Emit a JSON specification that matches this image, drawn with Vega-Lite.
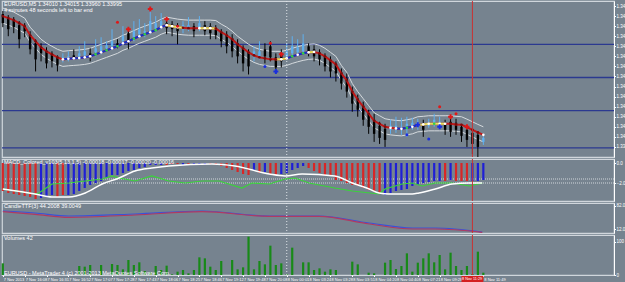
{
"$schema": "https://vega.github.io/schema/vega-lite/v6.json",
"padding": {"left": -2, "top": -1, "right": 0, "bottom": 0},
"background": "#76838f",
"spacing": 2,
"bounds": "flush",
"config": {
  "view": {"fill": "#76838f", "stroke": "#d0d6dc", "strokeWidth": 1.2},
  "axis": {"labelFontSize": 4.5, "labelColor": "#ffffff", "tickColor": "#ffffff", "domainColor": "#ffffff", "tickSize": 1.5, "labelPadding": 0.5, "labelFont": "Liberation Sans", "grid": false},
  "text": {"font": "Liberation Sans", "fontSize": 5.5, "color": "#ffffff"}
},
"datasets": {
"one": [{"z": 0}],
"bars": [
{"b":0,"o":1.34610,"h":1.34625,"l":1.34545,"c":1.34565,"ma":1.34600,"up":1.34640,"lo":1.34565,"dc":"r","m":-2.8,"mc":"r","v":35},
{"b":1,"o":1.34590,"h":1.34605,"l":1.34500,"c":1.34535,"ma":1.34590,"up":1.34630,"lo":1.34555,"dc":"r","m":-3.0,"mc":"r"},
{"b":2,"o":1.34580,"h":1.34595,"l":1.34515,"c":1.34545,"ma":1.34580,"up":1.34620,"lo":1.34545,"dc":"r","m":-3.1,"mc":"r"},
{"b":3,"o":1.34555,"h":1.34575,"l":1.34440,"c":1.34485,"ma":1.34565,"up":1.34605,"lo":1.34530,"dc":"r","m":-3.2,"mc":"r"},
{"b":4,"o":1.34550,"h":1.34565,"l":1.34495,"c":1.34525,"ma":1.34550,"up":1.34590,"lo":1.34515,"dc":"r","m":-3.3,"mc":"r"},
{"b":5,"o":1.34505,"h":1.34525,"l":1.34410,"c":1.34435,"ma":1.34505,"up":1.34545,"lo":1.34470,"dc":"r","m":-3.4,"mc":"r"},
{"b":6,"o":1.34465,"h":1.34485,"l":1.34325,"c":1.34385,"ma":1.34475,"up":1.34515,"lo":1.34440,"dc":"r","m":-3.6,"mc":"r"},
{"b":7,"o":1.34445,"h":1.34465,"l":1.34375,"c":1.34415,"ma":1.34445,"up":1.34485,"lo":1.34410,"dc":"r","m":-3.5,"mc":"b"},
{"b":8,"o":1.34425,"h":1.34445,"l":1.34340,"c":1.34365,"ma":1.34425,"up":1.34465,"lo":1.34390,"dc":"r","m":-3.3,"mc":"b"},
{"b":9,"o":1.34410,"h":1.34425,"l":1.34345,"c":1.34375,"ma":1.34410,"up":1.34450,"lo":1.34375,"dc":"r","m":-3.2,"mc":"b"},
{"b":10,"o":1.34395,"h":1.34405,"l":1.34325,"c":1.34355,"ma":1.34395,"up":1.34435,"lo":1.34360,"dc":"r","m":-3.4,"mc":"r"},
{"b":11,"o":1.34385,"h":1.34415,"l":1.34370,"c":1.34395,"ma":1.34385,"up":1.34425,"lo":1.34350,"dc":"w","bs":1,"m":-3.2,"mc":"r"},
{"b":12,"o":1.34390,"h":1.34425,"l":1.34375,"c":1.34400,"ma":1.34388,"up":1.34428,"lo":1.34353,"dc":"w","bs":1,"m":-3.2,"mc":"b"},
{"b":13,"o":1.34405,"h":1.34435,"l":1.34385,"c":1.34395,"ma":1.34390,"up":1.34430,"lo":1.34355,"dc":"w","bs":1,"m":-3.1,"mc":"b"},
{"b":14,"o":1.34400,"h":1.34450,"l":1.34385,"c":1.34415,"ma":1.34392,"up":1.34432,"lo":1.34357,"dc":"w","bs":1,"m":-2.8,"mc":"b","v":27},
{"b":15,"o":1.34405,"h":1.34475,"l":1.34390,"c":1.34425,"ma":1.34395,"up":1.34435,"lo":1.34360,"dc":"w","bs":1,"m":-2.5,"mc":"b","v":25},
{"b":16,"o":1.34415,"h":1.34440,"l":1.34375,"c":1.34400,"ma":1.34400,"up":1.34440,"lo":1.34365,"dc":"w","bs":1,"m":-2.2,"mc":"b","v":30},
{"b":17,"o":1.34420,"h":1.34485,"l":1.34400,"c":1.34440,"ma":1.34410,"up":1.34450,"lo":1.34375,"dc":"g","bs":1,"m":-2.0,"mc":"b"},
{"b":18,"o":1.34425,"h":1.34495,"l":1.34410,"c":1.34450,"ma":1.34420,"up":1.34460,"lo":1.34385,"dc":"w","bs":1,"m":-1.8,"mc":"b","v":30},
{"b":19,"o":1.34440,"h":1.34475,"l":1.34425,"c":1.34455,"ma":1.34430,"up":1.34470,"lo":1.34395,"dc":"g","bs":1,"m":-1.5,"mc":"b"},
{"b":20,"o":1.34450,"h":1.34535,"l":1.34435,"c":1.34475,"ma":1.34440,"up":1.34480,"lo":1.34405,"dc":"w","bs":1,"m":-1.2,"mc":"b","v":33},
{"b":21,"o":1.34465,"h":1.34485,"l":1.34440,"c":1.34455,"ma":1.34450,"up":1.34490,"lo":1.34415,"dc":"g","bs":1,"m":-1.2,"mc":"b","v":30},
{"b":22,"o":1.34475,"h":1.34550,"l":1.34455,"c":1.34500,"ma":1.34465,"up":1.34505,"lo":1.34430,"dc":"w","bs":1,"m":-1.0,"mc":"b","v":17},
{"b":23,"o":1.34515,"h":1.34540,"l":1.34435,"c":1.34475,"ma":1.34475,"up":1.34515,"lo":1.34440,"dc":"w","bs":1,"m":-0.8,"mc":"b","v":45},
{"b":24,"o":1.34495,"h":1.34575,"l":1.34475,"c":1.34525,"ma":1.34488,"up":1.34528,"lo":1.34453,"dc":"g","bs":1,"m":-0.7,"mc":"b","v":30},
{"b":25,"o":1.34510,"h":1.34585,"l":1.34490,"c":1.34535,"ma":1.34500,"up":1.34540,"lo":1.34465,"dc":"w","bs":1,"m":-0.5,"mc":"b","v":38},
{"b":26,"o":1.34515,"h":1.34565,"l":1.34495,"c":1.34525,"ma":1.34510,"up":1.34550,"lo":1.34475,"dc":"g","bs":1,"m":-0.4,"mc":"b","v":12},
{"b":27,"o":1.34525,"h":1.34635,"l":1.34510,"c":1.34575,"ma":1.34520,"up":1.34560,"lo":1.34485,"dc":"w","bs":1,"m":-0.2,"mc":"b","v":8},
{"b":28,"o":1.34535,"h":1.34600,"l":1.34520,"c":1.34565,"ma":1.34530,"up":1.34570,"lo":1.34495,"dc":"g","bs":1,"m":-0.2,"mc":"b","v":27},
{"b":29,"o":1.34545,"h":1.34615,"l":1.34535,"c":1.34575,"ma":1.34545,"up":1.34585,"lo":1.34510,"dc":"w","bs":1,"m":-0.2,"mc":"b","v":15},
{"b":30,"o":1.34565,"h":1.34585,"l":1.34510,"c":1.34540,"ma":1.34555,"up":1.34595,"lo":1.34520,"dc":"w","bs":1,"ys":1,"m":-0.2,"mc":"r","v":28},
{"b":31,"o":1.34560,"h":1.34575,"l":1.34500,"c":1.34535,"ma":1.34550,"up":1.34590,"lo":1.34515,"dc":"w","ys":1,"m":-0.1,"mc":"r","v":2},
{"b":32,"o":1.34555,"h":1.34565,"l":1.34460,"c":1.34525,"ma":1.34545,"up":1.34585,"lo":1.34510,"dc":"w","ys":1,"m":-0.1,"mc":"r","v":10},
{"b":33,"o":1.34535,"h":1.34575,"l":1.34515,"c":1.34555,"ma":1.34542,"up":1.34582,"lo":1.34507,"dc":"r","ys":1,"m":-0.2,"mc":"b","v":15},
{"b":34,"o":1.34540,"h":1.34595,"l":1.34525,"c":1.34555,"ma":1.34540,"up":1.34580,"lo":1.34505,"dc":"r","m":-0.1,"mc":"r","v":5},
{"b":35,"o":1.34550,"h":1.34565,"l":1.34495,"c":1.34525,"ma":1.34540,"up":1.34580,"lo":1.34505,"dc":"r","m":-0.2,"mc":"b","v":15},
{"b":36,"o":1.34540,"h":1.34600,"l":1.34525,"c":1.34565,"ma":1.34540,"up":1.34580,"lo":1.34505,"dc":"w","ys":2,"m":-0.2,"mc":"b","v":53},
{"b":37,"o":1.34555,"h":1.34575,"l":1.34505,"c":1.34525,"ma":1.34540,"up":1.34580,"lo":1.34505,"dc":"w","ys":2,"m":-0.2,"mc":"b","v":50},
{"b":38,"o":1.34550,"h":1.34565,"l":1.34485,"c":1.34515,"ma":1.34540,"up":1.34580,"lo":1.34505,"dc":"w","ys":2,"m":-0.1,"mc":"r","v":25},
{"b":39,"o":1.34540,"h":1.34555,"l":1.34485,"c":1.34505,"ma":1.34538,"up":1.34578,"lo":1.34503,"dc":"r","ys":2,"m":-0.2,"mc":"r","v":15},
{"b":40,"o":1.34520,"h":1.34535,"l":1.34445,"c":1.34475,"ma":1.34520,"up":1.34560,"lo":1.34485,"dc":"r","m":-0.3,"mc":"r","v":42},
{"b":41,"o":1.34505,"h":1.34525,"l":1.34415,"c":1.34450,"ma":1.34505,"up":1.34545,"lo":1.34470,"dc":"r","m":-0.5,"mc":"r"},
{"b":42,"o":1.34490,"h":1.34510,"l":1.34395,"c":1.34425,"ma":1.34485,"up":1.34525,"lo":1.34450,"dc":"r","m":-0.7,"mc":"r","v":45},
{"b":43,"o":1.34465,"h":1.34485,"l":1.34365,"c":1.34400,"ma":1.34460,"up":1.34500,"lo":1.34425,"dc":"r","m":-0.9,"mc":"r","v":17},
{"b":44,"o":1.34440,"h":1.34455,"l":1.34325,"c":1.34365,"ma":1.34440,"up":1.34480,"lo":1.34405,"dc":"r","m":-1.1,"mc":"r","v":23},
{"b":45,"o":1.34420,"h":1.34435,"l":1.34310,"c":1.34350,"ma":1.34420,"up":1.34460,"lo":1.34385,"dc":"r","m":-1.2,"mc":"r","v":115},
{"b":46,"o":1.34405,"h":1.34450,"l":1.34375,"c":1.34425,"ma":1.34405,"up":1.34445,"lo":1.34370,"dc":"r","m":-0.7,"mc":"b","v":17},
{"b":47,"o":1.34400,"h":1.34475,"l":1.34385,"c":1.34425,"ma":1.34395,"up":1.34435,"lo":1.34360,"dc":"r","m":-1.0,"mc":"r","v":42},
{"b":48,"o":1.34435,"h":1.34465,"l":1.34365,"c":1.34400,"ma":1.34390,"up":1.34430,"lo":1.34355,"dc":"r","m":-0.9,"mc":"b","v":32},
{"b":49,"o":1.34450,"h":1.34475,"l":1.34375,"c":1.34395,"ma":1.34385,"up":1.34425,"lo":1.34350,"dc":"r","m":-1.1,"mc":"r","v":88},
{"b":50,"o":1.34395,"h":1.34415,"l":1.34315,"c":1.34345,"ma":1.34385,"up":1.34425,"lo":1.34350,"dc":"r","ys":3,"m":-1.2,"mc":"r","v":30},
{"b":51,"o":1.34415,"h":1.34435,"l":1.34345,"c":1.34375,"ma":1.34385,"up":1.34425,"lo":1.34350,"dc":"w","ys":3,"m":-1.1,"mc":"b","v":35},
{"b":52,"o":1.34400,"h":1.34465,"l":1.34385,"c":1.34425,"ma":1.34390,"up":1.34430,"lo":1.34355,"dc":"w","ys":3,"bs":2,"m":-1.0,"mc":"b","v":3},
{"b":53,"o":1.34415,"h":1.34500,"l":1.34400,"c":1.34450,"ma":1.34400,"up":1.34440,"lo":1.34365,"dc":"g","bs":2,"m":-0.7,"mc":"b","v":82},
{"b":54,"o":1.34420,"h":1.34485,"l":1.34405,"c":1.34445,"ma":1.34408,"up":1.34448,"lo":1.34373,"dc":"w","bs":2,"m":-0.5,"mc":"b"},
{"b":55,"o":1.34425,"h":1.34510,"l":1.34410,"c":1.34465,"ma":1.34415,"up":1.34455,"lo":1.34380,"dc":"g","bs":2,"m":-0.3,"mc":"b","v":38},
{"b":56,"o":1.34450,"h":1.34465,"l":1.34400,"c":1.34425,"ma":1.34420,"up":1.34460,"lo":1.34385,"dc":"w","bs":2,"ys":4,"m":-0.5,"mc":"r","v":38},
{"b":57,"o":1.34435,"h":1.34455,"l":1.34375,"c":1.34400,"ma":1.34422,"up":1.34462,"lo":1.34387,"dc":"w","ys":4,"m":-0.8,"mc":"r","v":15},
{"b":58,"o":1.34420,"h":1.34435,"l":1.34355,"c":1.34385,"ma":1.34415,"up":1.34455,"lo":1.34380,"dc":"r","m":-1.0,"mc":"r","v":20},
{"b":59,"o":1.34400,"h":1.34415,"l":1.34325,"c":1.34350,"ma":1.34400,"up":1.34440,"lo":1.34365,"dc":"r","m":-1.2,"mc":"r","v":10},
{"b":60,"o":1.34380,"h":1.34400,"l":1.34295,"c":1.34325,"ma":1.34380,"up":1.34420,"lo":1.34345,"dc":"r","m":-1.3,"mc":"r","v":17},
{"b":61,"o":1.34360,"h":1.34375,"l":1.34275,"c":1.34315,"ma":1.34360,"up":1.34400,"lo":1.34325,"dc":"r","m":-1.7,"mc":"r","v":15},
{"b":62,"o":1.34320,"h":1.34340,"l":1.34235,"c":1.34265,"ma":1.34315,"up":1.34355,"lo":1.34280,"dc":"r","m":-1.8,"mc":"r"},
{"b":63,"o":1.34290,"h":1.34315,"l":1.34195,"c":1.34225,"ma":1.34280,"up":1.34320,"lo":1.34245,"dc":"r","m":-2.0,"mc":"r"},
{"b":64,"o":1.34225,"h":1.34250,"l":1.34125,"c":1.34165,"ma":1.34225,"up":1.34265,"lo":1.34190,"dc":"r","m":-2.2,"mc":"r","v":40},
{"b":65,"o":1.34190,"h":1.34210,"l":1.34100,"c":1.34135,"ma":1.34185,"up":1.34225,"lo":1.34150,"dc":"r","m":-2.3,"mc":"r","v":32},
{"b":66,"o":1.34155,"h":1.34175,"l":1.34055,"c":1.34085,"ma":1.34150,"up":1.34190,"lo":1.34115,"dc":"r","m":-2.5,"mc":"r"},
{"b":67,"o":1.34115,"h":1.34135,"l":1.34015,"c":1.34050,"ma":1.34115,"up":1.34155,"lo":1.34080,"dc":"r","m":-2.7,"mc":"r","v":7},
{"b":68,"o":1.34085,"h":1.34115,"l":1.33975,"c":1.34015,"ma":1.34080,"up":1.34120,"lo":1.34045,"dc":"r","m":-2.8,"mc":"r","v":5},
{"b":69,"o":1.34055,"h":1.34075,"l":1.33965,"c":1.33995,"ma":1.34065,"up":1.34105,"lo":1.34030,"dc":"r","m":-3.0,"mc":"r"},
{"b":70,"o":1.34040,"h":1.34065,"l":1.33950,"c":1.33985,"ma":1.34050,"up":1.34090,"lo":1.34015,"dc":"r","m":-3.2,"mc":"b","v":37},
{"b":71,"o":1.34035,"h":1.34085,"l":1.34015,"c":1.34055,"ma":1.34045,"up":1.34085,"lo":1.34010,"dc":"w","m":-3.0,"mc":"b","v":45},
{"b":72,"o":1.34035,"h":1.34100,"l":1.34020,"c":1.34055,"ma":1.34042,"up":1.34082,"lo":1.34007,"dc":"w","bs":3,"m":-2.8,"mc":"b","v":18},
{"b":73,"o":1.34035,"h":1.34095,"l":1.34010,"c":1.34050,"ma":1.34040,"up":1.34080,"lo":1.34005,"dc":"w","bs":3,"m":-2.7,"mc":"b","v":27},
{"b":74,"o":1.34045,"h":1.34100,"l":1.34000,"c":1.34065,"ma":1.34045,"up":1.34085,"lo":1.34010,"dc":"g","bs":3,"m":-2.6,"mc":"b","v":65},
{"b":75,"o":1.34050,"h":1.34095,"l":1.34035,"c":1.34070,"ma":1.34050,"up":1.34090,"lo":1.34015,"dc":"w","bs":3,"m":-2.3,"mc":"b","v":10},
{"b":76,"o":1.34055,"h":1.34090,"l":1.34035,"c":1.34070,"ma":1.34060,"up":1.34100,"lo":1.34025,"dc":"w","bs":3,"ys":5,"m":-2.2,"mc":"b","v":37},
{"b":77,"o":1.34065,"h":1.34085,"l":1.34000,"c":1.34035,"ma":1.34062,"up":1.34102,"lo":1.34027,"dc":"w","ys":5,"m":-2.0,"mc":"b","v":50},
{"b":78,"o":1.34055,"h":1.34090,"l":1.34045,"c":1.34070,"ma":1.34065,"up":1.34105,"lo":1.34030,"dc":"w","ys":5,"m":-1.9,"mc":"b","v":65},
{"b":79,"o":1.34065,"h":1.34115,"l":1.34050,"c":1.34085,"ma":1.34065,"up":1.34105,"lo":1.34030,"dc":"g","ys":5,"m":-1.8,"mc":"b","v":38},
{"b":80,"o":1.34055,"h":1.34100,"l":1.34045,"c":1.34075,"ma":1.34065,"up":1.34105,"lo":1.34030,"dc":"w","ys":5,"m":-1.8,"mc":"b","v":60},
{"b":81,"o":1.34070,"h":1.34085,"l":1.34010,"c":1.34035,"ma":1.34065,"up":1.34105,"lo":1.34030,"dc":"w","ys":5,"m":-1.8,"mc":"r","v":17},
{"b":82,"o":1.34075,"h":1.34095,"l":1.34000,"c":1.34025,"ma":1.34065,"up":1.34105,"lo":1.34030,"dc":"r","m":-1.7,"mc":"b","v":67},
{"b":83,"o":1.34070,"h":1.34090,"l":1.34010,"c":1.34035,"ma":1.34062,"up":1.34102,"lo":1.34027,"dc":"r","m":-1.8,"mc":"r","v":27},
{"b":84,"o":1.34050,"h":1.34060,"l":1.33975,"c":1.34005,"ma":1.34060,"up":1.34100,"lo":1.34025,"dc":"r","m":-1.8,"mc":"r","v":15},
{"b":85,"o":1.34035,"h":1.34045,"l":1.33950,"c":1.33985,"ma":1.34048,"up":1.34088,"lo":1.34013,"dc":"r","m":-1.8,"mc":"r","v":27},
{"b":86,"o":1.34020,"h":1.34035,"l":1.33915,"c":1.33965,"ma":1.34035,"up":1.34075,"lo":1.34000,"dc":"r","m":-1.8,"mc":"b","v":3},
{"b":87,"o":1.34010,"h":1.34025,"l":1.33900,"c":1.33950,"ma":1.34022,"up":1.34062,"lo":1.33987,"dc":"r","m":-1.8,"mc":"b","v":70},
{"b":88,"o":1.33975,"h":1.34005,"l":1.33960,"c":1.33995,"ma":1.34010,"up":1.34050,"lo":1.33975,"dc":"w","m":-1.7,"mc":"b","v":7}
],
"mk": [
{"b":27,"p":1.34635,"k":"rc"},{"b":21,"p":1.34570,"k":"rd"},{"b":23,"p":1.34535,"k":"rc"},{"b":30,"p":1.34585,"k":"rc"},{"b":32,"p":1.34550,"k":"rd"},{"b":49,"p":1.34465,"k":"rd"},{"b":51,"p":1.34410,"k":"rc"},{"b":50,"p":1.34325,"k":"bc"},{"b":48,"p":1.34350,"k":"bd"},{"b":74,"p":1.34010,"k":"bd"},{"b":76,"p":1.34060,"k":"bc"},{"b":78,"p":1.33990,"k":"bd"},{"b":80,"p":1.34050,"k":"bc"},{"b":80,"p":1.34150,"k":"rd"},{"b":82,"p":1.34100,"k":"rc"},{"b":83,"p":1.34115,"k":"rd"},{"b":85,"p":1.34050,"k":"rc"}
],
"macdw": [
{"b":0,"v":-2.6},{"b":5.9,"v":-3.1},{"b":9,"v":-3.4},{"b":12.1,"v":-3.4},{"b":15.1,"v":-3.0},{"b":18.2,"v":-2.1},{"b":21.3,"v":-1.5},{"b":24.2,"v":-0.8},{"b":27.3,"v":-0.5},{"b":30.4,"v":-0.3},{"b":38.3,"v":-0.1},{"b":42.5,"v":-0.3},{"b":48.8,"v":-1.1},{"b":51.7,"v":-1.3},{"b":54.8,"v":-1.1},{"b":60.8,"v":-1.3},{"b":64,"v":-2.0},{"b":67.1,"v":-2.6},{"b":68.9,"v":-3.0},{"b":70.7,"v":-3.1},{"b":75,"v":-3.1},{"b":76.2,"v":-3.0},{"b":79.2,"v":-2.6},{"b":82.3,"v":-2.1},{"b":85.4,"v":-2.0},{"b":87.8,"v":-2.0}
],
"macdg": [
{"b":0,"v":-2.6},{"b":5.9,"v":-3.1},{"b":6.6,"v":-3.0},{"b":9,"v":-2.1},{"b":12.1,"v":-2.0},{"b":15.1,"v":-1.8},{"b":18.2,"v":-1.6},{"b":20,"v":-1.3},{"b":21.3,"v":-1.5},{"b":24.2,"v":-1.8},{"b":27.3,"v":-1.3},{"b":30.4,"v":-1.8},{"b":33.4,"v":-2.0},{"b":36.5,"v":-1.8},{"b":39.6,"v":-1.8},{"b":43.8,"v":-2.5},{"b":45.6,"v":-2.0},{"b":48.8,"v":-2.1},{"b":51.7,"v":-1.6},{"b":53.5,"v":-1.5},{"b":56.1,"v":-2.0},{"b":60.8,"v":-2.5},{"b":64,"v":-2.8},{"b":68.9,"v":-3.1},{"b":70,"v":-2.6},{"b":73.1,"v":-2.1},{"b":75,"v":-2.0},{"b":76.8,"v":-2.3},{"b":79.2,"v":-2.0},{"b":82.3,"v":-2.0},{"b":85.4,"v":-2.3},{"b":87.8,"v":-2.0}
],
"cb": [
{"b":0,"v":66},{"b":5.9,"v":60},{"b":12.1,"v":51},{"b":24.2,"v":57},{"b":36.5,"v":66},{"b":48.8,"v":51},{"b":57.9,"v":51},{"b":67.1,"v":30},{"b":75,"v":15},{"b":79.2,"v":15},{"b":87.8,"v":3}
],
"cr": [
{"b":0,"v":64},{"b":5.9,"v":56},{"b":12.1,"v":47},{"b":24.2,"v":54},{"b":36.5,"v":64},{"b":48.8,"v":50},{"b":57.9,"v":50},{"b":67.1,"v":27},{"b":75,"v":12},{"b":79.2,"v":12},{"b":87.8,"v":2}
]
},
"vconcat": [
{
"width": 612, "height": 156,
"resolve": {"axis": {"x": "independent", "y": "independent"}},
"layer": [
{"data": {"values": [{"p":1.3446},{"p":1.34295},{"p":1.3413},{"p":1.33945}]},
 "mark": {"type": "rule", "color": "#2b3990", "strokeWidth": 1.3},
 "encoding": {"y": {"field": "p", "type": "quantitative", "title": null, "scale": {"domain": [1.339, 1.34675], "nice": false, "zero": false},
   "axis": {"orient": "right", "values": [1.3395,1.34,1.3405,1.341,1.3415,1.342,1.3425,1.343,1.3435,1.344,1.3445,1.345,1.3455,1.346,1.3465], "format": ".4f", "title": null}}}},
{"data": {"name": "bars"}, "mark": {"type": "line", "color": "#d5dade", "strokeWidth": 1},
 "encoding": {"x": {"field": "b", "type": "quantitative", "scale": {"domain": [-0.15, 111.93], "nice": false, "zero": false}, "axis": null},
   "y": {"field": "up", "type": "quantitative", "scale": {"domain": [1.339, 1.34675], "nice": false, "zero": false}, "axis": null}}},
{"data": {"name": "bars"}, "mark": {"type": "line", "color": "#d5dade", "strokeWidth": 1},
 "encoding": {"x": {"field": "b", "type": "quantitative", "scale": {"domain": [-0.15, 111.93], "nice": false, "zero": false}, "axis": null},
   "y": {"field": "lo", "type": "quantitative", "scale": {"domain": [1.339, 1.34675], "nice": false, "zero": false}, "axis": null}}},
{"data": {"name": "bars"}, "mark": {"type": "rule", "strokeWidth": 1},
 "encoding": {"x": {"field": "b", "type": "quantitative", "scale": {"domain": [-0.15, 111.93], "nice": false, "zero": false}, "axis": null},
   "y": {"field": "l", "type": "quantitative", "scale": {"domain": [1.339, 1.34675], "nice": false, "zero": false}, "axis": null},
   "y2": {"field": "h"},
   "color": {"condition": {"test": "datum.c > datum.o", "value": "#5fb0f0"}, "value": "#000000"}}},
{"data": {"name": "bars"}, "mark": {"type": "rule", "strokeWidth": 2.4, "strokeCap": "butt"},
 "encoding": {"x": {"field": "b", "type": "quantitative", "scale": {"domain": [-0.15, 111.93], "nice": false, "zero": false}, "axis": null},
   "y": {"field": "o", "type": "quantitative", "scale": {"domain": [1.339, 1.34675], "nice": false, "zero": false}, "axis": null},
   "y2": {"field": "c"},
   "color": {"condition": {"test": "datum.c > datum.o", "value": "#5fb0f0"}, "value": "#000000"}}},
{"data": {"name": "bars"}, "mark": {"type": "line", "color": "#c01818", "strokeWidth": 2},
 "encoding": {"x": {"field": "b", "type": "quantitative", "scale": {"domain": [-0.15, 111.93], "nice": false, "zero": false}, "axis": null},
   "y": {"field": "ma", "type": "quantitative", "scale": {"domain": [1.339, 1.34675], "nice": false, "zero": false}, "axis": null}}},
{"data": {"name": "bars"}, "transform": [{"filter": "isValid(datum.bs)"}], "mark": {"type": "line", "color": "#1530c8", "strokeWidth": 2},
 "encoding": {"x": {"field": "b", "type": "quantitative", "scale": {"domain": [-0.15, 111.93], "nice": false, "zero": false}, "axis": null},
   "y": {"field": "ma", "type": "quantitative", "scale": {"domain": [1.339, 1.34675], "nice": false, "zero": false}, "axis": null},
   "detail": {"field": "bs"}}},
{"data": {"name": "bars"}, "transform": [{"filter": "isValid(datum.ys)"}], "mark": {"type": "line", "color": "#e6e05a", "strokeWidth": 2},
 "encoding": {"x": {"field": "b", "type": "quantitative", "scale": {"domain": [-0.15, 111.93], "nice": false, "zero": false}, "axis": null},
   "y": {"field": "ma", "type": "quantitative", "scale": {"domain": [1.339, 1.34675], "nice": false, "zero": false}, "axis": null},
   "detail": {"field": "ys"}}},
{"data": {"name": "bars"}, "mark": {"type": "point", "filled": true, "size": 7, "opacity": 1},
 "encoding": {"x": {"field": "b", "type": "quantitative", "scale": {"domain": [-0.15, 111.93], "nice": false, "zero": false}, "axis": null},
   "y": {"field": "ma", "type": "quantitative", "scale": {"domain": [1.339, 1.34675], "nice": false, "zero": false}, "axis": null},
   "color": {"condition": [{"test": "datum.dc == 'r'", "value": "#7a0c0c"}, {"test": "datum.dc == 'g'", "value": "#35d045"}], "value": "#ffffff"}}},
{"data": {"name": "mk"}, "transform": [{"filter": "datum.k == 'rc' || datum.k == 'bc'"}], "mark": {"type": "point", "shape": "cross", "filled": true, "size": 24, "opacity": 1},
 "encoding": {"x": {"field": "b", "type": "quantitative", "scale": {"domain": [-0.15, 111.93], "nice": false, "zero": false}, "axis": null},
   "y": {"field": "p", "type": "quantitative", "scale": {"domain": [1.339, 1.34675], "nice": false, "zero": false}, "axis": null},
   "color": {"condition": {"test": "datum.k == 'rc'", "value": "#e01818"}, "value": "#1a2ee0"}}},
{"data": {"name": "mk"}, "transform": [{"filter": "datum.k == 'rd' || datum.k == 'bd'"}], "mark": {"type": "point", "shape": "circle", "filled": true, "size": 9, "opacity": 1},
 "encoding": {"x": {"field": "b", "type": "quantitative", "scale": {"domain": [-0.15, 111.93], "nice": false, "zero": false}, "axis": null},
   "y": {"field": "p", "type": "quantitative", "scale": {"domain": [1.339, 1.34675], "nice": false, "zero": false}, "axis": null},
   "color": {"condition": {"test": "datum.k == 'rd'", "value": "#e01818"}, "value": "#1a2ee0"}}},
{"data": {"name": "one"}, "mark": {"type": "rule", "color": "#e0e4e8", "strokeWidth": 1, "strokeDash": [1, 2]},
 "encoding": {"x": {"datum": 52, "type": "quantitative", "scale": {"domain": [-0.15, 111.93], "nice": false, "zero": false}, "axis": null}}},
{"data": {"name": "one"}, "mark": {"type": "rule", "color": "#c83232", "strokeWidth": 1},
 "encoding": {"x": {"datum": 86, "type": "quantitative", "scale": {"domain": [-0.15, 111.93], "nice": false, "zero": false}, "axis": null}}},
{"data": {"name": "one"}, "mark": {"type": "text", "align": "left", "baseline": "middle", "dx": 2},
 "encoding": {"x": {"datum": -0.15, "type": "quantitative", "scale": {"domain": [-0.15, 111.93], "nice": false, "zero": false}, "axis": null},
   "y": {"datum": 1.34660, "type": "quantitative", "scale": {"domain": [1.339, 1.34675], "nice": false, "zero": false}, "axis": null},
   "text": {"value": "EURUSD,M5  1.34010 1.34015 1.33960 1.33995"}}},
{"data": {"name": "one"}, "mark": {"type": "text", "align": "left", "baseline": "middle", "dx": 2},
 "encoding": {"x": {"datum": -0.15, "type": "quantitative", "scale": {"domain": [-0.15, 111.93], "nice": false, "zero": false}, "axis": null},
   "y": {"datum": 1.34628, "type": "quantitative", "scale": {"domain": [1.339, 1.34675], "nice": false, "zero": false}, "axis": null},
   "text": {"value": "4 minutes 48 seconds left to bar end"}}}
]
},
{
"width": 612, "height": 42,
"resolve": {"axis": {"x": "independent", "y": "independent"}},
"layer": [
{"data": {"values": [{"v": -1.6}, {"v": -2.0}]},
 "mark": {"type": "rule", "color": "#e8ecef", "strokeWidth": 0.8, "strokeDash": [1, 1]},
 "encoding": {"y": {"field": "v", "type": "quantitative", "title": null, "scale": {"domain": [-3.8, 0.4], "nice": false, "zero": false},
   "axis": {"orient": "right", "values": [0, -2.0], "format": ".1f", "title": null}}}},
{"data": {"name": "bars"}, "mark": {"type": "rule", "strokeWidth": 2.2, "strokeCap": "butt"},
 "encoding": {"x": {"field": "b", "type": "quantitative", "scale": {"domain": [-0.15, 111.93], "nice": false, "zero": false}, "axis": null},
   "y": {"field": "m", "type": "quantitative", "scale": {"domain": [-3.8, 0.4], "nice": false, "zero": false}, "axis": null},
   "y2": {"datum": 0},
   "color": {"condition": {"test": "datum.mc == 'r'", "value": "#d92626"}, "value": "#1f1fd6"}}},
{"data": {"name": "macdg"}, "mark": {"type": "line", "color": "#3ad43a", "strokeWidth": 1.2},
 "encoding": {"x": {"field": "b", "type": "quantitative", "scale": {"domain": [-0.15, 111.93], "nice": false, "zero": false}, "axis": null},
   "y": {"field": "v", "type": "quantitative", "scale": {"domain": [-3.8, 0.4], "nice": false, "zero": false}, "axis": null}}},
{"data": {"name": "macdw"}, "mark": {"type": "line", "color": "#ffffff", "strokeWidth": 1.5, "interpolate": "monotone"},
 "encoding": {"x": {"field": "b", "type": "quantitative", "scale": {"domain": [-0.15, 111.93], "nice": false, "zero": false}, "axis": null},
   "y": {"field": "v", "type": "quantitative", "scale": {"domain": [-3.8, 0.4], "nice": false, "zero": false}, "axis": null}}},
{"data": {"name": "one"}, "mark": {"type": "rule", "color": "#e0e4e8", "strokeWidth": 1, "strokeDash": [1, 2]},
 "encoding": {"x": {"datum": 52, "type": "quantitative", "scale": {"domain": [-0.15, 111.93], "nice": false, "zero": false}, "axis": null}}},
{"data": {"name": "one"}, "mark": {"type": "rule", "color": "#c83232", "strokeWidth": 1},
 "encoding": {"x": {"datum": 86, "type": "quantitative", "scale": {"domain": [-0.15, 111.93], "nice": false, "zero": false}, "axis": null}}},
{"data": {"name": "one"}, "mark": {"type": "text", "align": "left", "baseline": "middle", "dx": 2},
 "encoding": {"x": {"datum": -0.15, "type": "quantitative", "scale": {"domain": [-0.15, 111.93], "nice": false, "zero": false}, "axis": null},
   "y": {"datum": 0.1, "type": "quantitative", "scale": {"domain": [-3.8, 0.4], "nice": false, "zero": false}, "axis": null},
   "text": {"value": "MACD_Colored_v103(5,13,1,5) -0.00018 -0.00017 -0.00020 -0.00016"}}}
]
},
{
"width": 612, "height": 30,
"resolve": {"axis": {"x": "independent", "y": "independent"}},
"layer": [
{"data": {"name": "cb"}, "mark": {"type": "line", "color": "#3a52d8", "strokeWidth": 1.2, "interpolate": "monotone"},
 "encoding": {"x": {"field": "b", "type": "quantitative", "scale": {"domain": [-0.15, 111.93], "nice": false, "zero": false}, "axis": null},
   "y": {"field": "v", "type": "quantitative", "title": null, "scale": {"domain": [0, 90], "nice": false, "zero": false},
     "axis": {"orient": "right", "values": [82, 12], "format": ".1f", "title": null}}}},
{"data": {"name": "cr"}, "mark": {"type": "line", "color": "#b03a62", "strokeWidth": 1.2, "interpolate": "monotone"},
 "encoding": {"x": {"field": "b", "type": "quantitative", "scale": {"domain": [-0.15, 111.93], "nice": false, "zero": false}, "axis": null},
   "y": {"field": "v", "type": "quantitative", "scale": {"domain": [0, 90], "nice": false, "zero": false}, "axis": null}}},
{"data": {"name": "one"}, "mark": {"type": "rule", "color": "#e0e4e8", "strokeWidth": 1, "strokeDash": [1, 2]},
 "encoding": {"x": {"datum": 52, "type": "quantitative", "scale": {"domain": [-0.15, 111.93], "nice": false, "zero": false}, "axis": null}}},
{"data": {"name": "one"}, "mark": {"type": "rule", "color": "#c83232", "strokeWidth": 1},
 "encoding": {"x": {"datum": 86, "type": "quantitative", "scale": {"domain": [-0.15, 111.93], "nice": false, "zero": false}, "axis": null}}},
{"data": {"name": "one"}, "mark": {"type": "text", "align": "left", "baseline": "middle", "dx": 2},
 "encoding": {"x": {"datum": -0.15, "type": "quantitative", "scale": {"domain": [-0.15, 111.93], "nice": false, "zero": false}, "axis": null},
   "y": {"datum": 81, "type": "quantitative", "scale": {"domain": [0, 90], "nice": false, "zero": false}, "axis": null},
   "text": {"value": "CandleTTF(3) 44.2008 39.0049"}}}
]
},
{
"width": 612, "height": 40,
"resolve": {"axis": {"x": "independent", "y": "independent"}},
"layer": [
{"data": {"name": "bars"}, "transform": [{"filter": "isValid(datum.v)"}], "mark": {"type": "rule", "color": "#188a18", "strokeWidth": 2.2, "strokeCap": "butt"},
 "encoding": {"x": {"field": "b", "type": "quantitative", "title": null, "scale": {"domain": [-0.15, 111.93], "nice": false, "zero": false},
   "axis": {"orient": "bottom", "values": [0,4,8,12,16,20,24,28,32,36,40,44,48,52,56,60,64,68,72,76,80,88], "labelAlign": "left", "labelOffset": 0.5, "labelFontSize": 4, "labelOverlap": false, "labelFlush": false, "labelBound": false, "domain": false, "title": null,
     "labelExpr": "['7 Nov 2013','7 Nov 16:08','7 Nov 16:31','7 Nov 16:52','7 Nov 17:07','7 Nov 17:28','7 Nov 17:43','7 Nov 18:06','7 Nov 18:25','7 Nov 18:46','7 Nov 19:12','7 Nov 19:48','7 Nov 20:08','8 Nov 00:01','8 Nov 03:24','8 Nov 03:28','8 Nov 03:51','8 Nov 04:20','8 Nov 04:40','8 Nov 07:21','8 Nov 09:28','8 Nov 10:53','8 Nov 11:49'][round(datum.value/4)]"}},
   "y": {"field": "v", "type": "quantitative", "title": null, "scale": {"domain": [0, 120], "nice": false, "zero": false},
     "axis": {"orient": "right", "values": [0, 100], "format": "d", "title": null}},
   "y2": {"datum": 0}}},
{"data": {"name": "one"}, "mark": {"type": "rule", "color": "#e0e4e8", "strokeWidth": 1, "strokeDash": [1, 2]},
 "encoding": {"x": {"datum": 52, "type": "quantitative", "scale": {"domain": [-0.15, 111.93], "nice": false, "zero": false}, "axis": null}}},
{"data": {"name": "one"}, "mark": {"type": "rule", "color": "#c83232", "strokeWidth": 1},
 "encoding": {"x": {"datum": 86, "type": "quantitative", "scale": {"domain": [-0.15, 111.93], "nice": false, "zero": false}, "axis": null}}},
{"data": {"name": "one"}, "mark": {"type": "text", "align": "left", "baseline": "middle", "dx": 2},
 "encoding": {"x": {"datum": -0.15, "type": "quantitative", "scale": {"domain": [-0.15, 111.93], "nice": false, "zero": false}, "axis": null},
   "y": {"datum": 111, "type": "quantitative", "scale": {"domain": [0, 120], "nice": false, "zero": false}, "axis": null},
   "text": {"value": "Volumes 42"}}},
{"data": {"name": "one"}, "mark": {"type": "text", "align": "left", "baseline": "middle", "dx": 2},
 "encoding": {"x": {"datum": -0.15, "type": "quantitative", "scale": {"domain": [-0.15, 111.93], "nice": false, "zero": false}, "axis": null},
   "y": {"datum": 6, "type": "quantitative", "scale": {"domain": [0, 120], "nice": false, "zero": false}, "axis": null},
   "text": {"value": "EURUSD - MetaTrader 4 (c) 2001-2013 MetaQuotes Software Corp."}}},
{"data": {"name": "one"}, "mark": {"type": "rect", "color": "#d42020"},
 "encoding": {"x": {"datum": 84.0, "type": "quantitative", "scale": {"domain": [-0.15, 111.93], "nice": false, "zero": false}, "axis": null},
   "x2": {"datum": 88.0},
   "y": {"datum": -3, "type": "quantitative", "scale": {"domain": [0, 120], "nice": false, "zero": false}, "axis": null},
   "y2": {"datum": -24}}},
{"data": {"name": "one"}, "mark": {"type": "text", "align": "left", "baseline": "middle", "dx": 0.5, "fontSize": 3.8},
 "encoding": {"x": {"datum": 84.0, "type": "quantitative", "scale": {"domain": [-0.15, 111.93], "nice": false, "zero": false}, "axis": null},
   "y": {"datum": -13, "type": "quantitative", "scale": {"domain": [0, 120], "nice": false, "zero": false}, "axis": null},
   "text": {"value": "8 Nov 11:29"}}}
]
}
]
}
